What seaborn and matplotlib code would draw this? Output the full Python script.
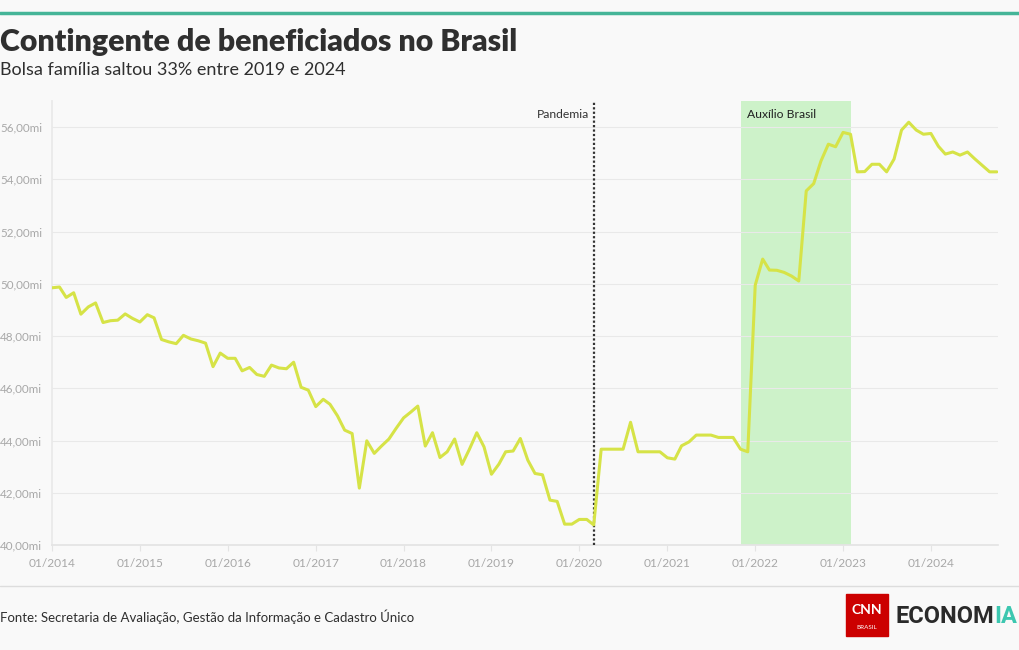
import matplotlib
matplotlib.use("Agg")
import matplotlib.pyplot as plt
import matplotlib.dates as mdates
from matplotlib.patches import Rectangle
from matplotlib.ticker import FuncFormatter
import pandas as pd
import seaborn as sns

# monthly beneficiaries (millions), Jan 2014 - Oct 2024
values = [
    49.85, 49.88, 49.48, 49.66, 48.84, 49.12, 49.27, 48.52, 48.59, 48.61, 48.85, 48.68,
    48.54, 48.82, 48.70, 47.87, 47.78, 47.71, 48.03, 47.89, 47.82, 47.73, 46.83, 47.35,
    47.15, 47.15, 46.67, 46.80, 46.53, 46.46, 46.89, 46.78, 46.75, 47.00, 46.04, 45.93,
    45.30, 45.58, 45.39, 44.95, 44.40, 44.27, 42.18, 43.99, 43.51, 43.79, 44.06, 44.47,
    44.87, 45.10, 45.32, 43.79, 44.30, 43.35, 43.57, 44.06, 43.09, 43.66, 44.30, 43.76,
    42.71, 43.10, 43.57, 43.60, 44.08, 43.25, 42.74, 42.69, 41.72, 41.67, 40.80, 40.80,
    40.98, 40.98, 40.77, 43.67, 43.67, 43.67, 43.67, 44.70, 43.57, 43.57, 43.57, 43.57,
    43.34, 43.29, 43.80, 43.95, 44.21, 44.21, 44.21, 44.12, 44.12, 44.12, 43.67, 43.57,
    49.95, 50.95, 50.53, 50.52, 50.44, 50.30, 50.11, 53.56, 53.84, 54.70, 55.35, 55.25,
    55.80, 55.73, 54.29, 54.30, 54.58, 54.58, 54.29, 54.78, 55.89, 56.19, 55.89, 55.73,
    55.76, 55.27, 54.97, 55.05, 54.93, 55.05, 54.79, 54.54, 54.29, 54.29,
]
months = pd.date_range("2014-01-01", periods=len(values), freq="MS")
pandemic_date = pd.Timestamp("2020-03-01")
auxilio_start = pd.Timestamp("2021-11-01")
auxilio_end = pd.Timestamp("2023-02-01")
yticks = [40, 42, 44, 46, 48, 50, 52, 54, 56]
xticks = pd.date_range("2014-01-01", "2024-01-01", freq="YS")

BG = "#f9f9f9"
sns.set_theme(style="white")
plt.rcParams["font.family"] = ["Lato", "DejaVu Sans"]

fig = plt.figure(figsize=(10.2, 6.5), dpi=100, facecolor=BG)
ax = fig.add_axes([0.051, 0.1615, 0.927, 0.683], facecolor=BG)

frame = pd.DataFrame({"mes": months, "beneficiados": values})
ax.axvspan(auxilio_start, auxilio_end, color="#cdf2c9", zorder=0, lw=0)
ax.axvline(pandemic_date, color="#333333", ls=(0, (1, 1)), lw=1.6, zorder=3)
sns.lineplot(data=frame, x="mes", y="beneficiados", ax=ax, color="#d6e347",
             linewidth=2.2, zorder=4)

ax.set_xlim(months[0], months[-1] + pd.Timedelta(days=3))
ax.set_ylim(40, 57.0)
ax.set_yticks(yticks)
ax.yaxis.set_major_formatter(FuncFormatter(lambda v, p: f"{v:.2f}".replace(".", ",") + "mi"))
ax.set_xticks(xticks)
ax.xaxis.set_major_formatter(mdates.DateFormatter("%m/%Y"))
ax.grid(axis="y", color="#e9e9e9", lw=0.8)
ax.grid(axis="x", visible=False)
ax.set_xlabel("")
ax.set_ylabel("")
for side in ["top", "right"]:
    ax.spines[side].set_visible(False)
ax.spines["left"].set_color("#e9e9e9")
ax.spines["bottom"].set_color("#e4e4e4")
ax.tick_params(axis="x", colors="#e4e4e4", labelcolor="#a8a8a8", labelsize=8.6,
               length=4, width=0.8, pad=5, direction="out", bottom=True)
ax.tick_params(axis="y", colors="#e4e4e4", labelcolor="#a8a8a8", labelsize=8.4,
               length=6, width=0.8, pad=1)

ax.text(pandemic_date - pd.Timedelta(days=20), 56.5, "Pandemia", ha="right",
        va="center", fontsize=8.7, color="#333333")
ax.text(auxilio_start + pd.Timedelta(days=25), 56.5, "Auxílio Brasil", ha="left",
        va="center", fontsize=8.7, color="#222222")

# header and footer
fig.add_artist(plt.Line2D([0, 1], [0.9795, 0.9795], color="#45b598", lw=2.5))
fig.add_artist(plt.Line2D([0, 1], [0.098, 0.098], color="#dddddd", lw=1))
fig.text(0.0, 0.936, "Contingente de beneficiados no Brasil", fontsize=21.8,
         fontweight="heavy", color="#2f2f2f", va="center", ha="left")
fig.text(0.0, 0.893, "Bolsa família saltou 33% entre 2019 e 2024", fontsize=13,
         color="#2f2f2f", va="center", ha="left")
fig.text(0.0, 0.051, "Fonte: Secretaria de Avaliação, Gestão da Informação e Cadastro Único",
         fontsize=9.5, color="#2f2f2f", va="center", ha="left")

fig.add_artist(Rectangle((846 / 1020, 0.022), 42 / 1020, 0.064, color="#cc0000",
                         transform=fig.transFigure))
fig.text(867 / 1020, 0.062, "CNN", fontsize=10, fontweight="bold", color="white",
         ha="center", va="center")
fig.text(867 / 1020, 0.035, "BRASIL", fontsize=4.5, color="white", ha="center", va="center")
fig.text(896 / 1020, 0.051, "ECONOM", fontsize=17, fontweight="bold", color="#2a2a2a",
         ha="left", va="center", family=["Roboto", "DejaVu Sans"], stretch="condensed")
fig.text(994 / 1020, 0.051, "IA", fontsize=17, fontweight="bold", color="#3cc7b0",
         ha="left", va="center", family=["Roboto", "DejaVu Sans"])

fig.savefig("out.png", dpi=100, facecolor=BG)
